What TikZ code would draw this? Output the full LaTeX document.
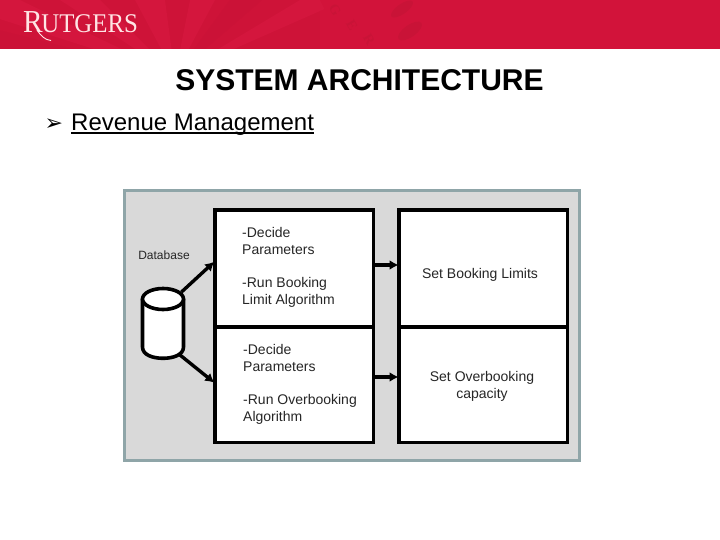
\documentclass[tikz,border=0pt]{standalone}
\usepackage{fontspec}
\setmainfont{Liberation Sans}
\newfontfamily\logofont[FakeStretch=0.92]{Liberation Serif}
\newfontfamily\letterfont{Liberation Serif}
\newfontfamily\symfont{DejaVu Sans}
\usetikzlibrary{arrows.meta}
\definecolor{bannerred}{HTML}{D2133A}
\definecolor{raydark}{HTML}{CB1237}
\definecolor{raymid}{HTML}{CE1338}
\definecolor{raylight}{HTML}{D4163D}
\definecolor{letterred}{HTML}{C91337}
\definecolor{panelfill}{HTML}{D9D9D9}
\definecolor{panelline}{HTML}{8FA5A8}
\tikzset{
  x=1pt,y=-1pt,
  panelbox/.style={draw=panelline,line width=3pt,fill=panelfill,minimum width=455pt,minimum height=269.7pt,inner sep=0pt},
  flowbox/.style={draw=black,line width=3.4pt,fill=white,inner sep=0pt},
  bodytext/.style={font=\fontsize{14}{17}\selectfont,text=black!85,align=left,inner sep=0pt},
  centertext/.style={bodytext,align=center},
  flow/.style={draw=black,line width=3.4pt,-{Latex[length=9pt,width=10pt]},shorten >=-1pt},
  dbbody/.style={draw=black,line width=3.6pt,fill=white,line join=round},
  dbanchor/.style={minimum width=42pt,minimum height=70pt,inner sep=0pt},
  bgletter/.style={rotate=-60,font=\letterfont\bfseries\fontsize{14}{14}\selectfont,text=letterred,inner sep=0pt}
}
\begin{document}
\begin{tikzpicture}
\useasboundingbox (0,0) rectangle (720,540);
\fill[white] (0,0) rectangle (720,540);
% banner
\fill[bannerred] (0,0) rectangle (720,49);
\begin{scope}
\clip (0,0) rectangle (720,49);
\fill[raymid] (0,0) rectangle (320,49);
\fill[raylight] (175,75) -- (-60,0) -- (20,0) -- cycle;
\fill[raylight] (175,75) -- (60,0) -- (100,0) -- cycle;
\fill[raylight] (175,75) -- (135,0) -- (165,0) -- cycle;
\fill[raylight] (175,75) -- (190,0) -- (215,0) -- cycle;
\fill[raylight] (175,75) -- (300,0) -- (345,0) -- cycle;
\fill[raydark] (175,75) -- (230,0) -- (262,0) -- cycle;
\fill[raydark] (175,75) -- (-60,15) -- (-60,50) -- cycle;
\fill[bannerred] (320,0) -- (720,0) -- (720,49) -- (345,49) -- cycle;
\node[bgletter] (bg1) at (335,10) {G};
\node[bgletter] (bg2) at (352,25) {E};
\node[bgletter] (bg3) at (369,40) {R};
\fill[letterred,rotate around={35:(402,9)}] (402,9) ellipse[x radius=13,y radius=5];
\fill[letterred,rotate around={35:(410,31)}] (410,31) ellipse[x radius=14,y radius=6];
\end{scope}
\node[anchor=base west,inner sep=0pt,text=white!90!red,font=\logofont] (logo) at (23,32.5)
  {{\fontsize{32}{32}\selectfont R}\kern-1.5pt{\fontsize{27}{27}\selectfont UTGERS}};
\coordinate (tail0) at (37,30);
\coordinate (tail1) at (51,40.5);
\draw[white!90!red,line width=.9pt] (tail0) .. controls (41,36) and (45,40) .. (tail1);
% title
\node[font=\fontsize{30}{32}\selectfont\bfseries,inner sep=0pt,anchor=base] (title) at (359.5,91) {SYSTEM ARCHITECTURE};
\node[font=\symfont\fontsize{22}{22}\selectfont,inner sep=0pt,anchor=base west] (bullet) at (44.5,130.5) {➢};
\node[font=\fontsize{24}{26}\selectfont,inner sep=0pt,anchor=base west] (rev) at (71,131) {Revenue Management};
\coordinate (ula) at (71,133);
\coordinate (ulb) at (313.5,133);
\draw[line width=2pt] (ula) -- (ulb);
% panel
\node[panelbox,anchor=north west] (panel) at (122.7,189) {};
% boxes
\node[flowbox,minimum width=158.3pt,minimum height=116.5pt,anchor=north west] (b1) at (213.3,208.3) {};
\node[flowbox,minimum width=158.3pt,minimum height=115.7pt,anchor=north west] (b2) at (213.3,325.2) {};
\node[flowbox,minimum width=168.3pt,minimum height=116.5pt,anchor=north west] (c1) at (397.3,208.3) {};
\node[flowbox,minimum width=168.3pt,minimum height=115.7pt,anchor=north west] (c2) at (397.3,325.2) {};
% text
\node[bodytext,anchor=north west] (t1) at (242,227) {-Decide\\Parameters\\[16.5pt]-Run Booking\\Limit Algorithm};
\node[bodytext,anchor=north west] (t2) at (243,344) {-Decide\\Parameters\\[16.5pt]-Run Overbooking\\Algorithm};
\node[centertext] (t3) at (480,274.5) {Set Booking Limits};
\node[centertext] (t4) at (482,386) {Set Overbooking\\capacity};
\node[font=\fontsize{12}{14}\selectfont,text=black!85,inner sep=0pt] (dbl) at (164,255.5) {Database};
% database
\node[dbanchor] (db) at (163,323.5) {};
\draw[dbbody] (142.5,299) -- (142.5,347) .. controls (142.5,355) and (153,358.3) .. (163,358.3) .. controls (173,358.3) and (183.5,355) .. (183.5,347) -- (183.5,299) -- cycle;
\draw[dbbody] (163,299) ellipse[x radius=20.5,y radius=10.5];
\coordinate (a1) at (181.5,292);
\coordinate (a2) at (180,355);
\coordinate (e1) at (213.5,262.5);
\coordinate (e2) at (213.5,382);
\coordinate (r1s) at (375,265);
\coordinate (r1e) at (397.5,265);
\coordinate (r2s) at (375,377);
\coordinate (r2e) at (397.5,377);
\draw[flow] (a1) -- (e1);
\draw[flow] (a2) -- (e2);
\draw[flow] (r1s) -- (r1e);
\draw[flow] (r2s) -- (r2e);
\end{tikzpicture}
\end{document}
